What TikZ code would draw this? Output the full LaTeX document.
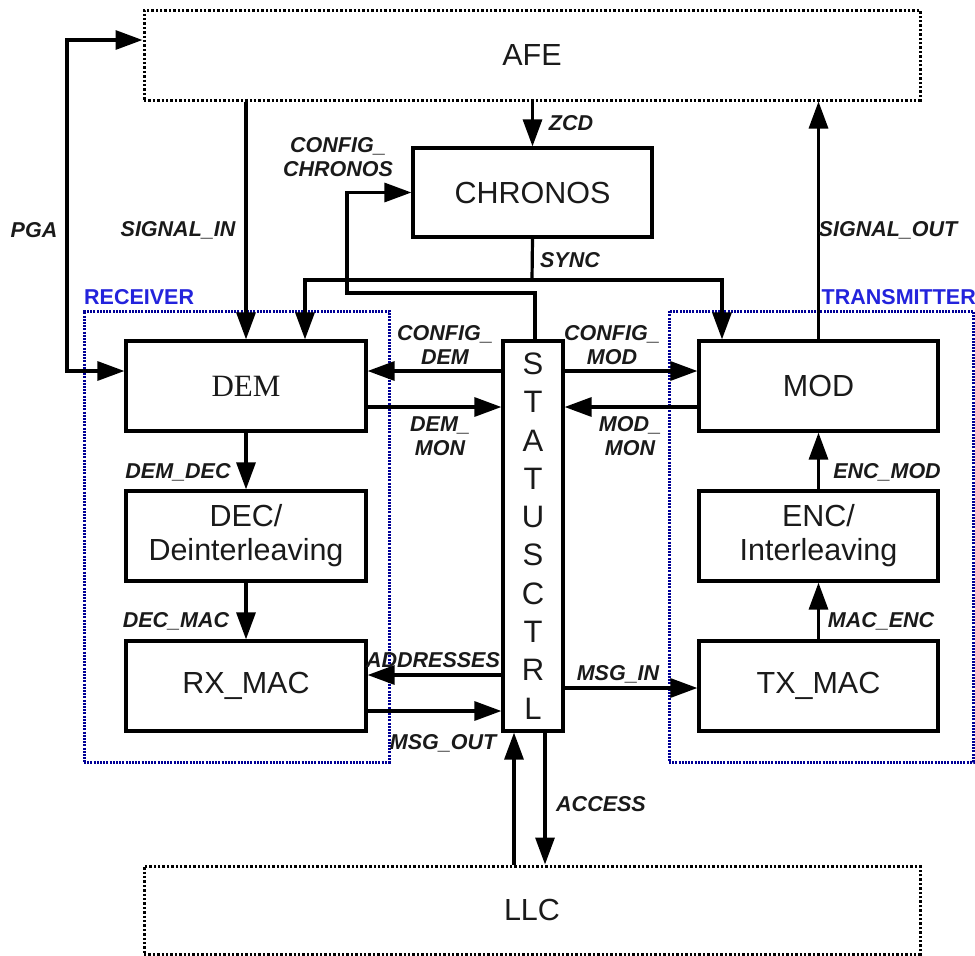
\documentclass[tikz,border=0pt]{standalone}
\usepackage{fontspec}
\setmainfont{Liberation Sans}
\newfontfamily\serifdem{Liberation Serif}
\usetikzlibrary{arrows.meta,calc}
\definecolor{txt}{RGB}{26,26,26}
\definecolor{grpblue}{RGB}{0,0,150}
\definecolor{grplab}{RGB}{35,35,220}
\newcommand\boxfont{\fontsize{30.5}{34}\selectfont}
\newcommand\labfont{\fontsize{21.5}{24}\selectfont\bfseries\itshape}
\begin{document}
\begin{tikzpicture}[x=1pt,y=-1pt,
 blk/.style={draw=black, line width=3.2pt, minimum width=240pt, minimum height=90pt, inner sep=0pt, font=\boxfont, text=txt, align=center},
 ext/.style={draw=black, line width=3pt, dash pattern=on 2.4pt off 2pt, minimum width=776pt, minimum height=90pt, inner sep=0pt, font=\boxfont, text=txt},
 grp/.style={draw=grpblue, line width=3pt, dash pattern=on 2pt off 1.2pt, inner sep=0pt},
 grplabel/.style={font=\fontsize{21.5}{24}\selectfont\bfseries, text=grplab, inner sep=0pt},
 conn/.style={line width=3.2pt, -{Triangle[length=27pt,width=19pt]}},
 biconn/.style={line width=3.2pt, {Triangle[length=27pt,width=19pt]}-{Triangle[length=27pt,width=19pt]}},
 plain/.style={line width=3.2pt},
 lab/.style={font=\labfont, text=txt, inner sep=0pt, align=center}]
\useasboundingbox (0,0) rectangle (975,956);

% group frames
\node[grp, minimum width=305pt, minimum height=451pt] (rxgrp) at (236.5,536.5) {};
\node[grp, minimum width=304pt, minimum height=451pt] (txgrp) at (821,536.5) {};
\node[grplabel, anchor=west] (rxlab) at (84,297) {RECEIVER};
\node[grplabel, anchor=east] (txlab) at (976,297) {TRANSMITTER};

% outer blocks
\node[ext] (AFE) at (532,55) {AFE};
\node[ext, minimum height=88pt] (LLC) at (532,910) {LLC};

% blocks
\node[blk, minimum width=239pt, minimum height=89pt] (CHR) at (532.5,192.5) {CHRONOS};
\node[blk] (DEM) at (246,386) {\serifdem\fontsize{31}{34}\selectfont DEM};
\node[blk] (DEC) at (246,536) {DEC/\\Deinterleaving};
\node[blk] (RXM) at (246,686) {RX\_MAC};
\node[blk, minimum width=239pt] (MOD) at (818.5,386) {MOD};
\node[blk, minimum width=239pt] (ENC) at (818.5,536) {ENC/\\Interleaving};
\node[blk, minimum width=239pt] (TXM) at (818.5,686) {TX\_MAC};
\node[blk, minimum width=60pt, minimum height=390pt, font=\fontsize{31}{38.3}\selectfont] (ST) at (533,536) {S\\T\\A\\T\\U\\S\\C\\T\\R\\L};

% helper coordinates
\coordinate (syncj) at (532,280);
\coordinate (ccturn) at (347,293);
\coordinate (pgax) at (67,200);
\coordinate (demsync) at ([xshift=59pt]DEM.north);
\coordinate (modsync) at ([xshift=-96.5pt]MOD.north);
\coordinate (stcc) at ([xshift=2pt]ST.north);
\coordinate (pgadem) at ([yshift=15pt]DEM.west);
\coordinate (pgaafe) at ([yshift=15pt]AFE.west);
\coordinate (cfgdem) at ([yshift=15pt]DEM.east);
\coordinate (mondem) at ([yshift=-21pt]DEM.east);
\coordinate (cfgmod) at ([yshift=15pt]MOD.west);
\coordinate (monmod) at ([yshift=-21pt]MOD.west);
\coordinate (addr) at ([yshift=11pt]RXM.east);
\coordinate (msgout) at ([yshift=-25pt]RXM.east);
\coordinate (msgin) at ([yshift=-2pt]TXM.west);
\coordinate (llcup) at ([xshift=-19pt]ST.south);
\coordinate (llcdn) at ([xshift=12pt]ST.south);

% connectors
\draw[conn] (AFE.south -| DEM.north) -- (DEM.north);
\draw[conn] (AFE.south -| CHR.north) -- (CHR.north);
\draw[plain] (CHR.south) -- (syncj);
\draw[conn] (syncj) -| (demsync);
\draw[conn] (syncj) -| (modsync);
\draw[conn] (stcc) |- (ccturn) |- (CHR.west);
\draw[biconn] (pgadem) -| (pgax) |- (pgaafe);
\draw[conn] (MOD.north) -- (AFE.south -| MOD.north);
\draw[conn] (ST.west |- cfgdem) -- (cfgdem);
\draw[conn] (mondem) -- (ST.west |- mondem);
\draw[conn] (ST.east |- cfgmod) -- (cfgmod);
\draw[conn] (monmod) -- (ST.east |- monmod);
\draw[conn] (DEM.south) -- (DEC.north);
\draw[conn] (DEC.south) -- (RXM.north);
\draw[conn] (ENC.north) -- (MOD.south);
\draw[conn] (TXM.north) -- (ENC.south);
\draw[conn] (ST.west |- addr) -- (addr);
\draw[conn] (msgout) -- (ST.west |- msgout);
\draw[conn] (ST.east |- msgin) -- (msgin);
\draw[conn] (LLC.north -| llcup) -- (llcup);
\draw[conn] (llcdn) -- (LLC.north -| llcdn);

% labels
\node[lab] (lpga) at (34,230) {PGA};
\node[lab] (lsigin) at (178,230) {SIGNAL\_IN};
\node[lab] (lcc) at (338,157) {CONFIG\_\\CHRONOS};
\node[lab] (lzcd) at (571,123) {ZCD};
\node[lab] (lsync) at (570,260) {SYNC};
\node[lab] (lsigout) at (888,230) {SIGNAL\_OUT};
\node[lab] (lcfgdem) at (445,345) {CONFIG\_\\DEM};
\node[lab] (lmondem) at (440,436) {DEM\_\\MON};
\node[lab] (lcfgmod) at (612,345) {CONFIG\_\\MOD};
\node[lab] (lmonmod) at (630,436) {MOD\_\\MON};
\node[lab] (ldemdec) at (178,472) {DEM\_DEC};
\node[lab] (ldecmac) at (176,621) {DEC\_MAC};
\node[lab] (laddr) at (433,660) {ADDRESSES};
\node[lab] (lmsgout) at (443,743) {MSG\_OUT};
\node[lab] (lmsgin) at (618,674) {MSG\_IN};
\node[lab] (lencmod) at (887,472) {ENC\_MOD};
\node[lab] (lmacenc) at (881,621) {MAC\_ENC};
\node[lab] (laccess) at (601,804) {ACCESS};
\end{tikzpicture}
\end{document}
